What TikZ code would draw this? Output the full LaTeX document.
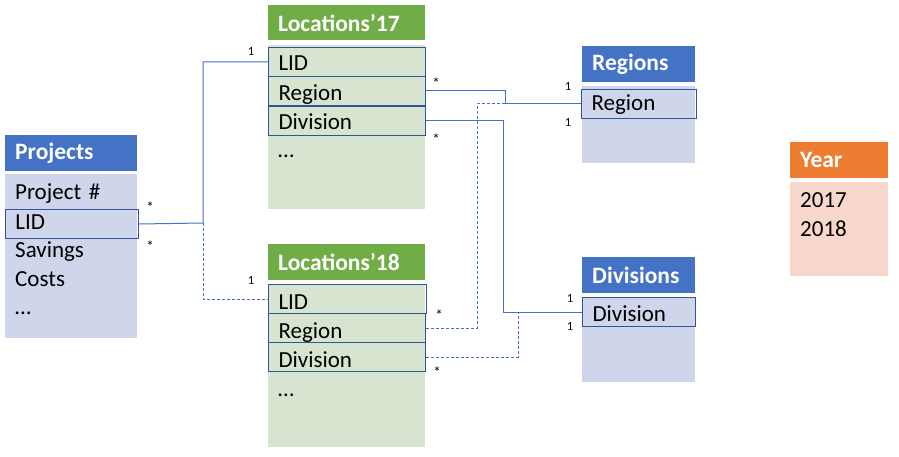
\documentclass[tikz,border=0pt]{standalone}
\usepackage{fontspec}
\setmainfont{Carlito}
\definecolor{hblue}{HTML}{4472C4}
\definecolor{bblue}{HTML}{CFD5EA}
\definecolor{hgreen}{HTML}{70AD47}
\definecolor{bgreen}{HTML}{D6E4D0}
\definecolor{horange}{HTML}{ED7D31}
\definecolor{borange}{HTML}{F8D7CC}
\definecolor{rowline}{HTML}{2F5597}
\definecolor{conncol}{HTML}{4472C4}
\tikzset{
  hdr/.style={fill=#1, text=white, font=\fontsize{23.5}{28}\selectfont\bfseries,
    anchor=north west, inner xsep=10pt, inner ysep=0pt, align=left},
  tbody/.style={fill=#1, anchor=north west, inner sep=0pt},
  row/.style={anchor=north west, inner xsep=10pt, inner ysep=0pt, minimum height=29pt,
    font=\fontsize{23}{28}\selectfont, align=left, text depth=0pt, text height=#1},
  row/.default=11pt,
  rowbox/.style={row=#1, draw=rowline, line width=1pt},
  rowbox/.default=11pt,
  conn/.style={draw=conncol, line width=1pt},
  dconn/.style={conn, dash pattern=on 3pt off 2pt},
  mult/.style={font=\fontsize{12.5}{14}\selectfont, inner sep=0pt},
  star/.style={font=\fontsize{15}{16}\selectfont, inner sep=0pt}
}
\begin{document}
\begin{tikzpicture}[x=1pt,y=-1pt]
\useasboundingbox (0,0) rectangle (899,457);
% Projects
\node[hdr=hblue, text width=112pt, minimum height=36pt] (ph) at (5,135) {Projects};
\node[tbody=bblue, minimum width=132pt, minimum height=164pt] (pb) at (5,174) {};
\node[row=11pt, text width=112pt] (pnum) at (5,179) {Project \#};
\node[rowbox=11pt, text width=113pt] (plid) at (5,209) {LID};
\node[row=11pt, text width=112pt] (psav) at (5,237) {Savings};
\node[row=11pt, text width=112pt] (pcost) at (5,266) {Costs};
\node[row=11pt, text width=112pt] (pdots) at (5,294) {\dots};
% Locations'17
\node[hdr=hgreen, text width=137pt, minimum height=35pt] (l17h) at (268,5) {Locations’17};
\node[tbody=bgreen, minimum width=157pt, minimum height=164pt] (l17b) at (268,45) {};
\node[rowbox=17pt, text width=137pt] (l17lid) at (268,47) {LID};
\node[rowbox=19pt, text width=137pt] (l17reg) at (268,76) {Region};
\node[rowbox=17pt, text width=137pt] (l17div) at (268,106) {Division};
\node[row=17pt, text width=137pt] (l17dots) at (268,134) {\dots};
% Locations'18
\node[hdr=hgreen, text width=137pt, minimum height=36pt] (l18h) at (268,244) {Locations’18};
\node[tbody=bgreen, minimum width=157pt, minimum height=163pt] (l18b) at (268,284) {};
\node[rowbox=21pt, text width=138pt] (l18lid) at (268,284) {LID};
\node[rowbox=21pt, text width=137pt] (l18reg) at (268,313) {Region};
\node[rowbox=21pt, text width=137pt] (l18div) at (268,342) {Division};
\node[row=21pt, text width=137pt] (l18dots) at (268,371) {\dots};
% Regions
\node[hdr=hblue, text width=93pt, minimum height=36pt] (rh) at (582,46) {Regions};
\node[tbody=bblue, minimum width=113pt, minimum height=77pt] (rb) at (582,86) {};
\node[rowbox=13pt, text width=95pt] (rreg) at (581,89) {Region};
% Divisions
\node[hdr=hblue, text width=93pt, minimum height=36pt] (dh) at (582,257) {Divisions};
\node[tbody=bblue, minimum width=113pt, minimum height=85pt] (db) at (582,297) {};
\node[rowbox=19pt, text width=93pt] (ddiv) at (582,297) {Division};
% Year
\node[hdr=horange, text width=78pt, minimum height=36pt] (yh) at (790,142) {Year};
\node[tbody=borange, minimum width=98pt, minimum height=94pt] (yb) at (790,182) {};
\node[row=11pt, text width=78pt] (y17) at (790,187) {2017};
\node[row=11pt, text width=78pt] (y18) at (790,216) {2018};
% connectors
\draw[conn] (plid.east) -- (203,223) coordinate (j1) |- (l17lid.west);
\draw[dconn] (j1) |- (l18lid.west);
\draw[dconn] (l18reg.east) -- ++(51,0) |- (rreg.west);
\draw[conn] (l17reg.east) -- ++(79,0) |- (rreg.west);
\draw[dconn] (l18div.east) -- ++(92,0) |- (ddiv.west);
\draw[conn] (l17div.east) -- ++(77,0) |- (ddiv.west);
% multiplicities
\node[mult] (m1) at (251,51) {1};
\node[star] (m2) at (150,207) {*};
\node[star] (m3) at (150,246) {*};
\node[mult] (m4) at (251,280) {1};
\node[star] (m5) at (436,83) {*};
\node[mult] (m6) at (568,86) {1};
\node[mult] (m7) at (568,122) {1};
\node[star] (m8) at (436,139) {*};
\node[star] (m9) at (439,315) {*};
\node[mult] (m10) at (570,298) {1};
\node[mult] (m11) at (570,326) {1};
\node[star] (m12) at (437,372) {*};
\end{tikzpicture}
\end{document}
